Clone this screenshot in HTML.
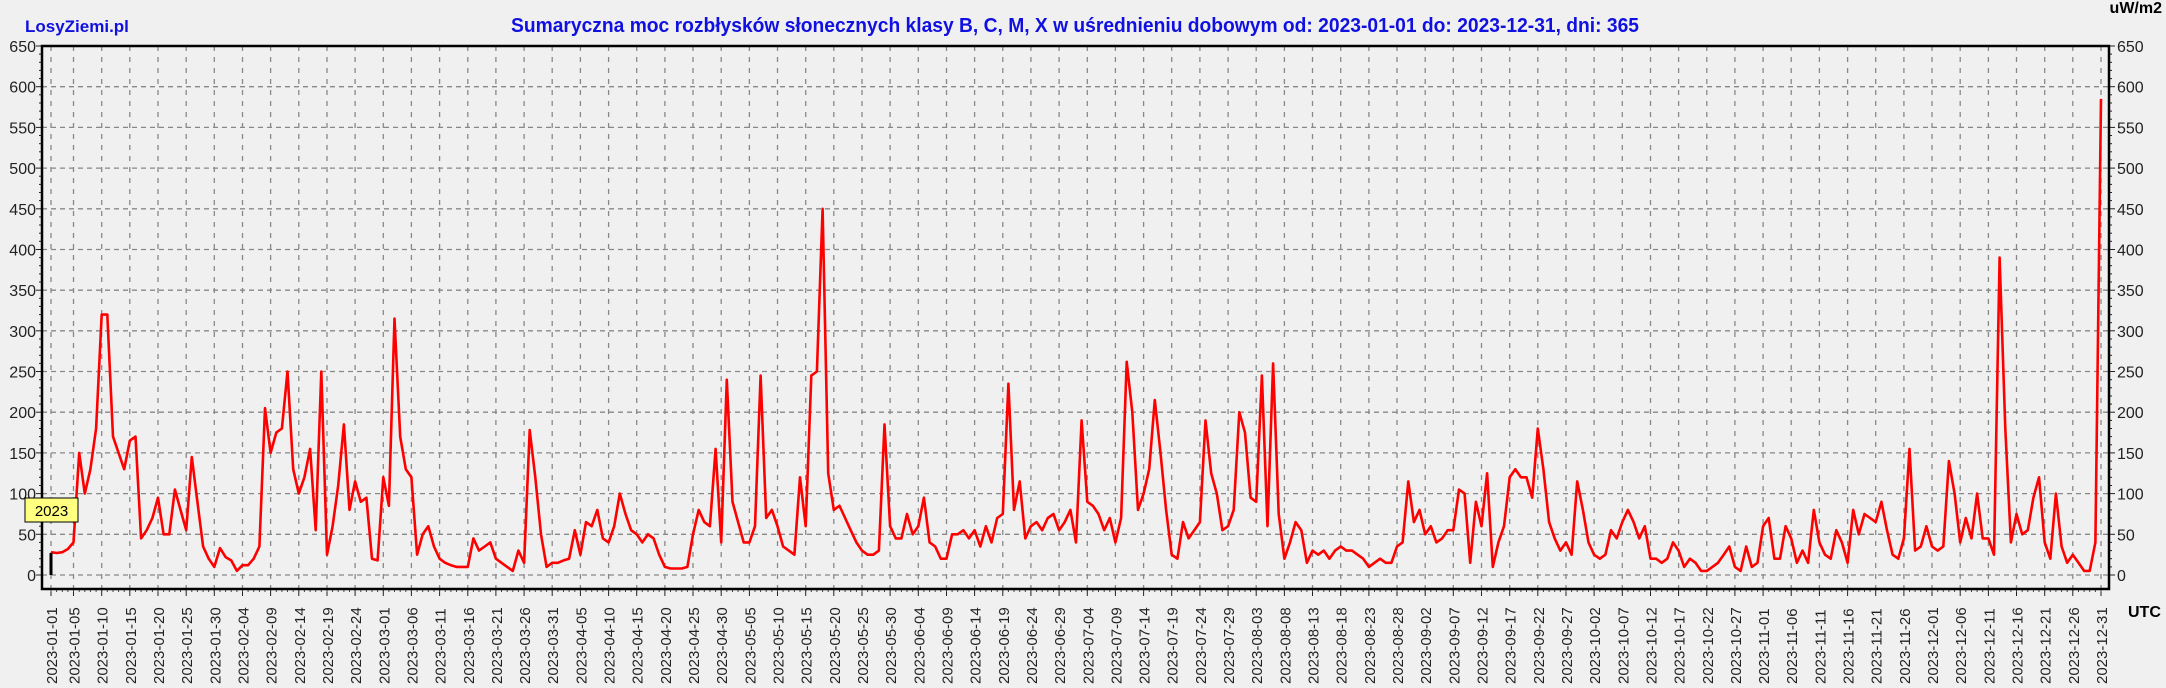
<!DOCTYPE html>
<html><head><meta charset="utf-8"><style>
html,body{margin:0;padding:0;background:#f0f0f0;}
svg{display:block;}
text{font-family:"Liberation Sans",Arial,sans-serif;}
</style></head><body>
<svg id="s" width="2166" height="688" xmlns="http://www.w3.org/2000/svg">
<rect x="0" y="0" width="2166" height="688" fill="#f0f0f0"/>
<text x="25" y="32" font-size="17" font-weight="bold" fill="#1010e0">LosyZiemi.pl</text>
<text x="1075" y="32" font-size="20" font-weight="bold" fill="#1010e0" text-anchor="middle" textLength="1128" lengthAdjust="spacingAndGlyphs">Sumaryczna moc rozbłysków słonecznych klasy B, C, M, X w uśrednieniu dobowym od: 2023-01-01 do: 2023-12-31, dni: 365</text>
<text x="2162" y="13" font-size="16" font-weight="bold" fill="#000" text-anchor="end">uW/m2</text>
<text x="2128" y="617" font-size="16" font-weight="bold" fill="#000">UTC</text>
<g id="g"></g>
</svg>
<script>
var d=[28,27,28,32,40,150,100,130,180,320,320,170,150,130,165,170,45,55,70,95,50,50,105,80,55,145,90,35,20,10,33,
22,18,5,12,12,20,35,205,150,175,180,250,130,100,120,155,55,250,25,60,110,185,80,115,90,95,20,18,
120,85,315,170,130,120,25,50,60,35,20,15,12,10,10,10,45,30,35,40,20,15,10,5,30,15,178,120,50,10,15,
15,18,20,55,25,65,60,80,45,40,60,100,75,55,50,40,50,45,25,10,8,8,8,10,50,80,65,60,155,40,
240,90,65,40,40,60,245,70,80,60,35,30,25,120,60,245,250,450,125,80,85,70,55,40,30,25,25,30,185,60,45,
45,75,50,60,95,40,35,20,20,50,50,55,45,55,35,60,40,70,75,235,80,115,45,60,65,55,70,75,55,65,
80,40,190,90,85,75,55,70,40,70,262,200,80,100,130,215,150,80,25,20,65,45,55,65,190,125,100,55,60,80,200,
175,95,90,245,60,260,75,20,40,65,55,15,30,25,30,20,30,35,30,30,25,20,10,15,20,15,15,35,40,115,65,
80,50,60,40,45,55,55,105,100,15,90,60,125,10,40,60,120,130,120,120,95,180,130,65,45,30,40,25,115,80,
40,25,20,25,55,45,65,80,65,45,60,20,20,15,20,40,30,10,20,15,5,5,10,15,25,35,10,5,35,10,15,
60,70,20,20,60,45,15,30,15,80,40,25,20,55,40,15,80,50,75,70,65,90,55,25,20,45,155,30,35,60,
35,30,35,140,100,40,70,45,100,45,45,25,390,180,40,75,50,55,95,120,40,20,100,35,15,25,15,5,5,40,585];
var L=42,R=2109,T=46,B=589,X0=51,DX=(2101-51)/364,Y0=575,K=529/650;
function X(i){return X0+i*DX} function Y(v){return Y0-v*K}
var h='';
for(var v=0;v<=650;v+=50){var y=Y(v).toFixed(1);
h+='<line x1="'+L+'" x2="'+R+'" y1="'+y+'" y2="'+y+'" stroke="#888" stroke-width="1.3" stroke-dasharray="5,4"/>';
h+='<text x="36" y="'+(+y+6)+'" font-size="16" fill="#222" text-anchor="end">'+v+'</text>';
h+='<text x="2117" y="'+(+y+6)+'" font-size="16" fill="#222">'+v+'</text>';}
for(var v=0;v<=650;v+=10){var y=Y(v).toFixed(1);var w=v%50==0?6:3;
h+='<line x1="'+(L-w)+'" x2="'+L+'" y1="'+y+'" y2="'+y+'" stroke="#222"/>';
h+='<line x1="'+R+'" x2="'+(R+w)+'" y1="'+y+'" y2="'+y+'" stroke="#222"/>';}
var md=[31,28,31,30,31,30,31,31,30,31,30,31];
function lab(i){var m=0;while(i>=md[m]){i-=md[m];m++;}return '2023-'+(m<9?'0':'')+(m+1)+'-'+(i<9?'0':'')+(i+1);}
var ds=[0];for(var i=4;i<=364;i+=5)ds.push(i);
ds.forEach(function(i){var x=X(i).toFixed(1);
h+='<line x1="'+x+'" x2="'+x+'" y1="'+T+'" y2="'+B+'" stroke="#888" stroke-width="1.3" stroke-dasharray="5,6"/>';
h+='<line x1="'+x+'" x2="'+x+'" y1="'+B+'" y2="'+(B+7)+'" stroke="#222"/>';
h+='<text transform="translate('+(+x+6)+',684) rotate(-90)" font-size="15" fill="#222">'+lab(i)+'</text>';});
for(var i=0;i<=364;i++){var x=X(i).toFixed(1);h+='<line x1="'+x+'" x2="'+x+'" y1="'+B+'" y2="'+(B+3)+'" stroke="#444"/>';}
var p=d.map(function(v,i){return X(i).toFixed(1)+','+Y(v).toFixed(1)}).join(' ');
h+='<polyline points="'+p+'" fill="none" stroke="#ff0000" stroke-width="2.6" stroke-linejoin="round"/>';
h+='<line x1="51" x2="51" y1="553" y2="575" stroke="#000" stroke-width="3"/>';
h+='<rect x="'+L+'" y="'+T+'" width="'+(R-L)+'" height="'+(B-T)+'" fill="none" stroke="#000" stroke-width="2.5"/>';
h+='<rect x="25" y="498" width="53" height="24" fill="#ffff80" stroke="#000" stroke-width="1"/>';
h+='<text x="51.5" y="516" font-size="15" fill="#000" text-anchor="middle">2023</text>';
document.getElementById('g').innerHTML=h;
</script>
</body></html>
